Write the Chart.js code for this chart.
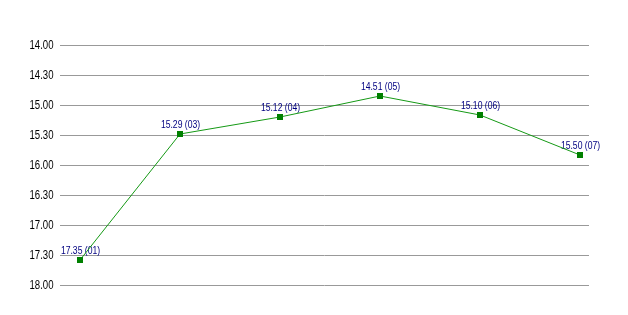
<!DOCTYPE html>
<html>
<head>
<meta charset="utf-8">
<script src="https://cdn.jsdelivr.net/npm/chart.js@4/dist/chart.umd.min.js"></script>
<style>
html,body{margin:0;padding:0;background:#fff;}
#wrap{width:628px;height:315px;}
</style>
</head>
<body>
<div id="wrap"><canvas id="c" width="628" height="315"></canvas></div>
<script>
// Category ids shown in point labels
const categories = ['01', '03', '04', '05', '06', '07'];
const timesSec = [1055, 929, 912, 891, 910, 950];
// Y axis range (seconds) and step
const yMin = 840, yMax = 1080, yStep = 30;

function fmt(v) {
  const m = Math.floor(v / 60), s = Math.round(v - m * 60);
  return m + '.' + (s < 10 ? '0' : '') + s;
}

// Draws condensed text (horizontal squeeze) as real canvas text
function drawNarrow(ctx, text, x, y, sx, align) {
  ctx.save();
  ctx.translate(x, y);
  ctx.scale(sx, 1);
  ctx.textAlign = align;
  ctx.fillText(text, 0, 0);
  ctx.restore();
}

const labelPlugin = {
  id: 'customLabels',
  beforeDatasetsDraw(chart) {
    const ctx = chart.ctx;
    // y tick labels
    const ys = chart.scales.y;
    ctx.save();
    ctx.font = '12px "Liberation Sans", Arial, sans-serif';
    ctx.fillStyle = '#000000';
    ctx.textBaseline = 'middle';
    ys.ticks.forEach(t => {
      drawNarrow(ctx, fmt(t.value), 53.5, ys.getPixelForValue(t.value) + 0.5, 0.8, 'right');
    });
    // point labels
    const meta = chart.getDatasetMeta(0);
    ctx.font = '10px "Liberation Sans", Arial, sans-serif';
    ctx.fillStyle = '#000080';
    ctx.textBaseline = 'alphabetic';
    meta.data.forEach((pt, i) => {
      drawNarrow(ctx, fmt(timesSec[i]) + ' (' + categories[i] + ')', pt.x + 0.5, pt.y - 6, 0.86, 'center');
    });
    ctx.restore();
  }
};

new Chart(document.getElementById('c'), {
  type: 'line',
  data: {
    datasets: [{
      data: timesSec.map((v, i) => ({ x: i, y: v })),
      borderColor: '#159915',
      borderWidth: 1,
      pointStyle: 'rect',
      pointRadius: 4.25,
      pointBackgroundColor: '#008000',
      pointBorderColor: '#008000',
      pointBorderWidth: 0,
      tension: 0,
      fill: false
    }]
  },
  options: {
    responsive: false,
    animation: false,
    layout: { padding: { top: 45, bottom: 30, right: 39, left: 0 } },
    plugins: { legend: { display: false }, tooltip: { enabled: false } },
    scales: {
      x: { type: 'linear', display: false, min: -0.2, max: 5.09 },
      y: {
        reverse: true,
        min: yMin,
        max: yMax,
        border: { display: false },
        grid: { color: '#999999', lineWidth: 1, drawTicks: false },
        afterFit(scale) { scale.width = 60; },
        ticks: {
          stepSize: yStep,
          display: false
        }
      }
    }
  },
  plugins: [labelPlugin]
});
</script>
</body>
</html>
